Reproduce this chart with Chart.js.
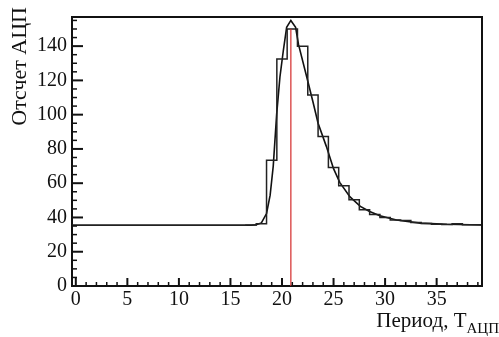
<!DOCTYPE html>
<html>
<head>
<meta charset="utf-8">
<script src="https://cdn.jsdelivr.net/npm/chart.js@4"></script>
<style>
html, body { margin: 0; padding: 0; background: #fff; }
</style>
</head>
<body>
<canvas id="chart" width="499" height="337"></canvas>
<script>
// histogram: one bin per ADC period, centred on the integer
const binCenters = [0, 1, 2, 3, 4, 5, 6, 7, 8, 9, 10, 11, 12, 13, 14, 15, 16, 17, 18, 19,
    20, 21, 22, 23, 24, 25, 26, 27, 28, 29, 30, 31, 32, 33, 34, 35, 36, 37, 38, 39];
const binCounts = [35.5, 35.5, 35.5, 35.5, 35.5, 35.5, 35.5, 35.5, 35.5, 35.5,
    35.5, 35.5, 35.5, 35.5, 35.5, 35.5, 35.5, 35.6, 36.3, 73.4,
    132.5, 150, 140, 111.5, 87.3, 69.2, 58.5, 50.3, 44.5, 41.7,
    40.0, 38.5, 38.2, 37.1, 36.5, 36.1, 35.9, 36.3, 35.7, 35.7];

// fitted pulse
const fitX = [-0.4, 17.0, 17.5, 18.0, 18.5, 18.85, 19.15, 19.48, 19.8, 20.12, 20.45, 20.86,
    21.32, 21.6, 22.4, 23.0, 23.5, 24.3, 25.0, 25.6, 26.6, 27.6, 28.5, 29.5, 31.1, 33.4, 36.0, 39.5];
const fitY = [35.5, 35.5, 35.7, 36.8, 42.3, 53, 70, 100, 122, 137, 151, 155,
    151, 141, 122, 107.5, 95, 81.5, 68.5, 60.5, 52, 46.5, 43.5, 41, 38.5, 36.7, 36, 35.6];

// peak marker
const peakX = 20.86;
const peakTop = 150;

const xTicks = [0, 5, 10, 15, 20, 25, 30, 35];
const yTicks = [0, 20, 40, 60, 80, 100, 120, 140];

const SERIF = '"Liberation Serif", "DejaVu Serif", serif';

// right edge of each bin carries its count ('after' = value of the segment ending there)
const histPoints = [{ x: binCenters[0] - 0.5, y: binCounts[0] }];
binCenters.forEach((c, i) => histPoints.push({ x: c + 0.5, y: binCounts[i] }));

const fitPoints = fitX.map((x, i) => ({ x: x, y: fitY[i] }));

const framePlugin = {
    id: 'frame',
    afterDatasetsDraw(chart) {
        const { ctx, chartArea: a, scales } = chart;
        ctx.save();
        ctx.strokeStyle = '#111';
        ctx.lineCap = 'butt';
        // top and right border
        ctx.lineWidth = 2;
        ctx.beginPath();
        ctx.moveTo(a.left, a.top);
        ctx.lineTo(a.right, a.top);
        ctx.lineTo(a.right, a.bottom);
        ctx.stroke();

        // x ticks, pointing inward
        for (let v = 0; v <= 39; v++) {
            const px = scales.x.getPixelForValue(v);
            const major = v % 5 === 0;
            ctx.lineWidth = major ? 2 : 1.5;
            ctx.beginPath();
            ctx.moveTo(px, a.bottom);
            ctx.lineTo(px, a.bottom - (major ? 8 : 4));
            ctx.stroke();
        }
        // y ticks
        for (let v = 0; v <= 155; v += 5) {
            const py = scales.y.getPixelForValue(v);
            const major = v % 20 === 0;
            ctx.lineWidth = major ? 2 : 1.5;
            ctx.beginPath();
            ctx.moveTo(a.left, py);
            ctx.lineTo(a.left + (major ? 11 : 5), py);
            ctx.stroke();
        }
        ctx.restore();
    },
    afterDraw(chart) {
        const { ctx } = chart;
        ctx.save();
        ctx.fillStyle = '#111';

        // y title, rotated, aligned to the top
        ctx.save();
        ctx.translate(20, 7);
        ctx.rotate(-Math.PI / 2);
        ctx.font = '22px ' + SERIF;
        ctx.textAlign = 'right';
        ctx.textBaseline = 'middle';
        ctx.fillText('Отсчет АЦП', 0, 0);
        ctx.restore();

        // x title with subscript
        ctx.font = '15px ' + SERIF;
        const subW = ctx.measureText('АЦП').width;
        ctx.textAlign = 'right';
        ctx.textBaseline = 'alphabetic';
        ctx.fillText('АЦП', 499, 333);
        ctx.font = '21px ' + SERIF;
        ctx.fillText('Период, T', 499 - subW, 327);
        ctx.restore();
    }
};

new Chart(
    document.getElementById('chart'),
    {
        type: 'line',
        data: {
            datasets: [
                {
                    label: 'peak',
                    data: [{ x: peakX, y: 0 }, { x: peakX, y: peakTop }],
                    borderColor: '#d42a2a',
                    borderWidth: 1.2,
                    pointRadius: 0,
                },
                {
                    label: 'histogram',
                    data: histPoints,
                    stepped: 'after',
                    borderColor: '#222',
                    borderWidth: 1.5,
                    pointRadius: 0,
                },
                {
                    label: 'fit',
                    data: fitPoints,
                    borderColor: '#111',
                    borderWidth: 1.6,
                    pointRadius: 0,
                    tension: 0,
                },
            ]
        },
        options: {
            responsive: false,
            animation: false,
            layout: { padding: { top: 5, right: 17, left: 0, bottom: 0 } },
            plugins: {
                legend: { display: false },
                tooltip: { enabled: false },
            },
            scales: {
                x: {
                    type: 'linear',
                    min: -0.37,
                    max: 39.4,
                    grid: { display: false, drawTicks: false },
                    border: { display: true, color: '#111', width: 2 },
                    ticks: {
                        color: '#111',
                        font: { family: SERIF, size: 20 },
                        padding: 2,
                        maxRotation: 0,
                        autoSkip: false,
                    },
                    afterBuildTicks: s => { s.ticks = xTicks.map(v => ({ value: v })); },
                    afterFit: s => { s.height = 51; },
                },
                y: {
                    min: 0,
                    max: 157,
                    grid: { display: false, drawTicks: false },
                    border: { display: true, color: '#111', width: 2 },
                    ticks: {
                        color: '#111',
                        font: { family: SERIF, size: 20 },
                        padding: 5,
                        autoSkip: false,
                    },
                    afterBuildTicks: s => { s.ticks = yTicks.map(v => ({ value: v })); },
                    afterFit: s => { s.width = 72; },
                },
            }
        },
        plugins: [framePlugin]
    }
);
</script>
</body>
</html>
